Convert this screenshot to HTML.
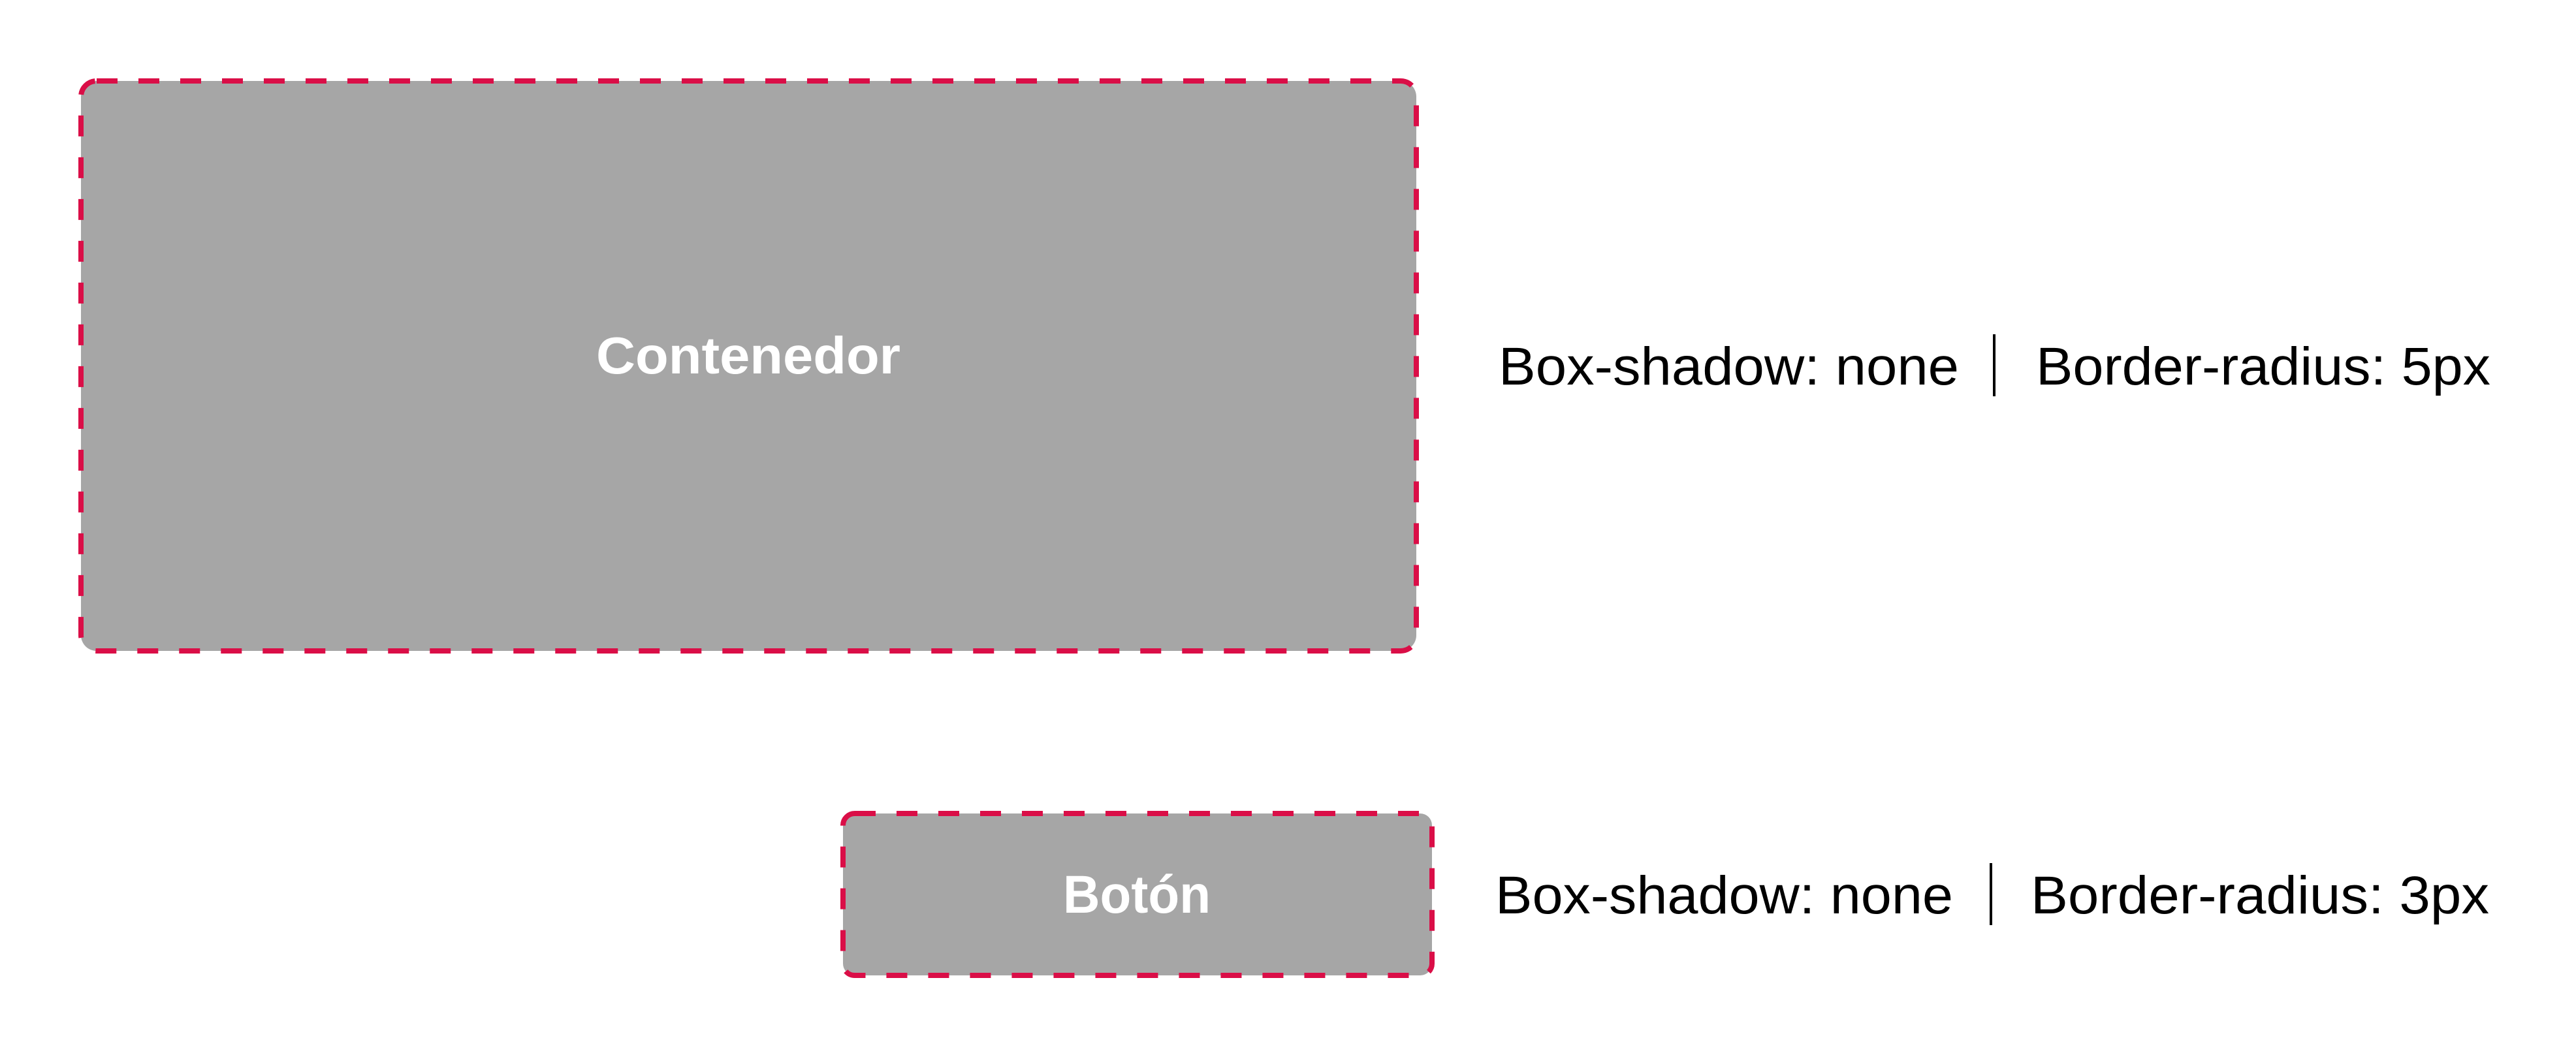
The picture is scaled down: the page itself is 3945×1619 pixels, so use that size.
<!DOCTYPE html>
<html><head><meta charset="utf-8"><style>
html,body{margin:0;padding:0;background:#fff;}
svg{display:block;}
</style></head><body>
<svg width="3945" height="1619" viewBox="0 0 3945 1619" xmlns="http://www.w3.org/2000/svg">
<rect x="124" y="124" width="2045" height="873" rx="24" fill="#a6a6a6" stroke="#da0e47" stroke-width="8" stroke-dasharray="32 32"/>
<rect x="1291" y="1246" width="902" height="248" rx="18" fill="#a6a6a6" stroke="#da0e47" stroke-width="8" stroke-dasharray="32 32"/>
<g font-family="Liberation Sans, sans-serif" font-weight="bold" fill="#fff" font-size="80" text-anchor="middle">
<text x="1146" y="572" textLength="466" lengthAdjust="spacingAndGlyphs">Contenedor</text>
<text x="1741" y="1398" font-size="82" textLength="226" lengthAdjust="spacingAndGlyphs">Botón</text>
</g>
<g font-family="Liberation Sans, sans-serif" fill="#000" font-size="82">
<text x="2295" y="589" textLength="705" lengthAdjust="spacingAndGlyphs">Box-shadow: none</text>
<rect x="3052" y="512" width="4" height="95"/>
<text x="3118" y="589" textLength="696" lengthAdjust="spacingAndGlyphs">Border-radius: 5px</text>
<text x="2290" y="1399" textLength="701" lengthAdjust="spacingAndGlyphs">Box-shadow: none</text>
<rect x="3047" y="1322" width="4" height="95"/>
<text x="3110" y="1399" textLength="702" lengthAdjust="spacingAndGlyphs">Border-radius: 3px</text>
</g>
</svg>
</body></html>
